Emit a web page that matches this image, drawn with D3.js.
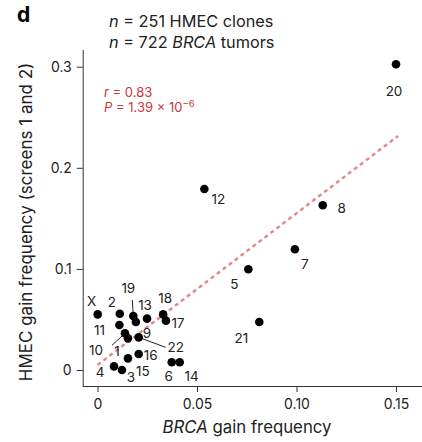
<!DOCTYPE html>
<head>
  <meta charset="utf-8">
  <script src="https://d3js.org/d3.v7.min.js"></script>
  <style>
    body { margin:0; background:#fff; }
    text { font-family: Inter, "Open Sans", sans-serif; fill:#222; }
    .axis path, .axis line { stroke:#333; stroke-width:1px; }
    .axis text { font-size:14px; fill:#222; }
  </style>
</head>
<body>
<script>
  // chromosome labels, BRCA gain freq (x) and HMEC gain freq (y)
  var chroms = ["X","2","11","19","9","13","18","17","10","1","22","16","15","4","3","6","14",
                "12","8","7","5","21","20"];
  var brca = [0.0001,0.0112,0.011,0.018,0.0193,0.0249,0.033,0.0344,0.0138,0.0153,0.0207,0.0207,0.0153,0.0083,0.0123,0.0373,0.0413,
              0.0537,0.1132,0.0992,0.0758,0.0813,0.150];
  var hmec = [0.055,0.0557,0.0445,0.0534,0.0475,0.0508,0.055,0.0488,0.0363,0.0313,0.0323,0.0158,0.0115,0.0036,0.0,0.0076,0.0076,
              0.179,0.163,0.1194,0.0996,0.0475,0.3024];
  var xTicks = [0, 0.05, 0.10, 0.15];
  var xTickLabels = ["0","0.05","0.10","0.15"];
  var yTicks = [0, 0.1, 0.2, 0.3];
  var yTickLabels = ["0","0.1","0.2","0.3"];
  var fit = {intercept: 0.005, slope: 1.5, x0: 0, x1: 0.151};

  // label centre offsets from the point; optional leader-line end offset
  var lab = {
    "X":[-6,-13], "2":[-8,-12], "11":[-20,5], "19":[-5,-28,-1,-16],
    "9":[11,11], "13":[-2,-14], "18":[2,-16], "17":[12,2],
    "10":[-29,17,-13,12], "1":[-11,13], "22":[37,10,27,10], "16":[12,1],
    "15":[15,13], "4":[-14,6], "3":[9,7], "6":[-3,14], "14":[12,14],
    "12":[14,10], "8":[19,3], "7":[10,15], "5":[-14,15], "21":[-18,16], "20":[-2,27]
  };

  var data = chroms.map(function(c, i) { return {c:c, x:brca[i], y:hmec[i]}; });

  var svg = d3.select("body").append("svg")
    .attr("width", 422).attr("height", 442);

  var x = d3.scaleLinear().domain([0, 0.15]).range([97.5, 396]);
  var y = d3.scaleLinear().domain([0, 0.3]).range([370, 66.7]);

  // axes
  svg.append("g").attr("class","axis")
    .attr("transform","translate(0,386)")
    .call(d3.axisBottom(x).tickValues(xTicks).tickFormat(function(d,i){ return xTickLabels[i]; })
      .tickSizeOuter(0).tickSize(6).tickPadding(7))
    .select(".domain").attr("d","M82.7,0.5H422");

  svg.append("g").attr("class","axis")
    .attr("transform","translate(82.7,0)")
    .call(d3.axisLeft(y).tickValues(yTicks).tickFormat(function(d,i){ return yTickLabels[i]; })
      .tickSizeOuter(0).tickSize(6).tickPadding(5))
    .select(".domain").attr("d","M0.5,50V386");

  // regression line
  svg.append("line")
    .attr("x1", x(fit.x0)).attr("y1", y(fit.intercept + fit.slope*fit.x0))
    .attr("x2", x(fit.x1)).attr("y2", y(fit.intercept + fit.slope*fit.x1))
    .attr("stroke","#e58a8c").attr("stroke-width",2.5).attr("stroke-dasharray","4,3.5");

  // leader lines
  svg.selectAll("line.lead")
    .data(data.filter(function(d){ return lab[d.c].length > 2; }))
    .enter().append("line").attr("class","lead")
    .attr("x1", function(d){ return x(d.x); })
    .attr("y1", function(d){ return y(d.y); })
    .attr("x2", function(d){ return x(d.x) + lab[d.c][2]; })
    .attr("y2", function(d){ return y(d.y) + lab[d.c][3]; })
    .attr("stroke","#222").attr("stroke-width",1);

  svg.selectAll("circle")
    .data(data)
    .enter().append("circle")
    .attr("cx", function(d){ return x(d.x); })
    .attr("cy", function(d){ return y(d.y); })
    .attr("r", 4.3)
    .attr("fill","#000");

  svg.selectAll("text.lbl")
    .data(data)
    .enter().append("text").attr("class","lbl")
    .attr("x", function(d){ return x(d.x) + lab[d.c][0]; })
    .attr("y", function(d){ return y(d.y) + lab[d.c][1] + 5; })
    .attr("text-anchor", "middle")
    .style("font-size","13.5px")
    .text(function(d){ return d.c; });

  // titles
  svg.append("text").attr("x",17).attr("y",22)
    .style("font-size","21px").style("font-weight","bold").style("fill","#000").text("d");

  var t1 = svg.append("text").attr("x",109).attr("y",27).style("font-size","16.3px");
  t1.append("tspan").style("font-style","italic").text("n");
  t1.append("tspan").text(" = 251 HMEC clones");
  var t2 = svg.append("text").attr("x",109).attr("y",48).style("font-size","16.3px");
  t2.append("tspan").style("font-style","italic").text("n");
  t2.append("tspan").text(" = 722 ");
  t2.append("tspan").style("font-style","italic").text("BRCA");
  t2.append("tspan").text(" tumors");

  var r1 = svg.append("text").attr("x",104).attr("y",97).style("font-size","13px").style("fill","#c9383c");
  r1.append("tspan").style("font-style","italic").style("fill","#c9383c").text("r");
  r1.append("tspan").style("fill","#c9383c").text(" = 0.83");
  var r2 = svg.append("text").attr("x",104).attr("y",112).style("font-size","13px").style("fill","#c9383c");
  r2.append("tspan").style("font-style","italic").style("fill","#c9383c").text("P");
  r2.append("tspan").style("fill","#c9383c").text(" = 1.39 \u00d7 10");
  r2.append("tspan").attr("dy",-5).style("font-size","9.5px").style("fill","#c9383c").text("\u22126");

  var xl = svg.append("text").attr("x",247).attr("y",433).attr("text-anchor","middle").style("font-size","16.8px");
  xl.append("tspan").style("font-style","italic").text("BRCA");
  xl.append("tspan").text(" gain frequency");

  svg.append("text")
    .attr("transform","translate(32,222) rotate(-90)")
    .attr("text-anchor","middle").style("font-size","17px")
    .text("HMEC gain frequency (screens 1 and 2)");
</script>
</body>
